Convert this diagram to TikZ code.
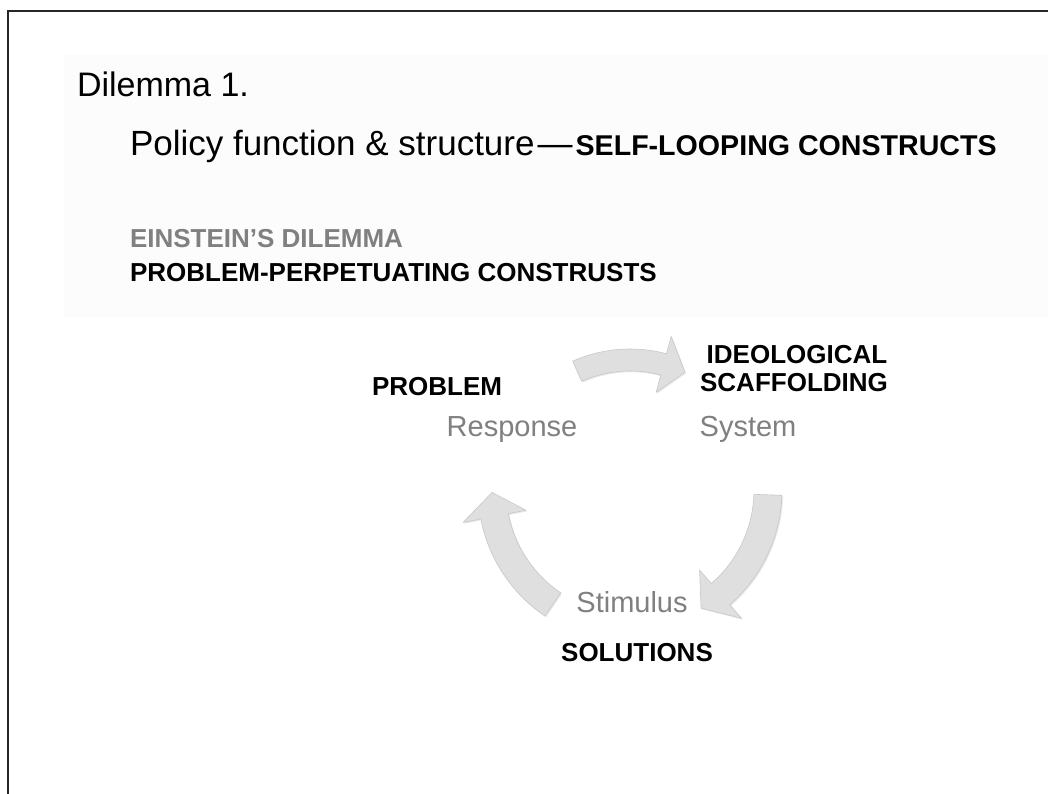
\documentclass[tikz,border=0pt]{standalone}
\usepackage{fontspec}
\setmainfont{Liberation Sans}
\usetikzlibrary{shadows}

\definecolor{panelgrey}{RGB}{252,252,252}
\definecolor{labelgrey}{RGB}{128,128,128}
\definecolor{arrowfill}{RGB}{223,223,223}
\definecolor{arrowedge}{RGB}{200,200,200}

\tikzset{
  frameline/.style={line width=1.6pt, black!85},
  plain/.style={inner sep=0pt, outer sep=0pt, text=black},
  boldlabel/.style={plain, font=\fontsize{26}{28}\selectfont\bfseries},
  greylabel/.style={plain, text=labelgrey, font=\fontsize{29}{31}\selectfont},
  arrowblock/.style={fill=arrowfill, draw=arrowedge, line width=0.6pt, line join=round,
    drop shadow={opacity=0.18, shadow xshift=1.2pt, shadow yshift=-1.2pt}},
}

% curved block arrow around the cycle centre
% #1 tail angle, #2 tip angle, #3 radius, #4 half body width, #5 half head width, #6 head length in degrees
\newcommand\cyclearrow[6]{%
  \pgfmathsetmacro\cyOut{#3+#4}\pgfmathsetmacro\cyIn{#3-#4}%
  \pgfmathsetmacro\cyHo{#3+#5}\pgfmathsetmacro\cyHi{#3-#5}%
  \pgfmathsetmacro\cyHb{#2+#6}%
  \path[arrowblock] (#1:\cyOut pt) arc[start angle=#1, end angle=\cyHb, radius=\cyOut pt]
    -- (\cyHb:\cyHo pt) -- (#2:#3 pt) -- (\cyHb:\cyHi pt) -- (\cyHb:\cyIn pt)
    arc[start angle=\cyHb, end angle=#1, radius=\cyIn pt] -- cycle;}

\begin{document}
\begin{tikzpicture}[x=1pt, y=1pt]
\useasboundingbox (0,0) rectangle (1048,794);
\fill[white] (0,0) rectangle (1048,794);

% slide frame and title panel
\draw[frameline] (8,0) -- (8,783) -- (1048,783);
\fill[panelgrey] (64,477) rectangle (1048,739);

% headings
\node[plain, anchor=base west, font=\fontsize{34}{40}\selectfont] (title) at (77,697) {Dilemma 1.};
\node[plain, anchor=base west, font=\fontsize{35}{40}\selectfont] (subtitle) at (130,638)
  {Policy function \& structure\hspace{3pt}---\hspace{3pt}{\fontsize{28.6}{32}\selectfont\bfseries SELF-LOOPING CONSTRUCTS}};
\node[boldlabel, anchor=base west, text=labelgrey] (einstein) at (130,546) {EINSTEIN’S DILEMMA};
\node[boldlabel, anchor=base west] (perpetuating) at (130,512) {PROBLEM-PERPETUATING CONSTRUSTS};

% cycle arrows
\begin{scope}[shift={(630,304)}]
  \cyclearrow{114}{65}{130}{11}{29}{10}
  \cyclearrow{-2}{-59}{138}{14}{32}{10}
  \cyclearrow{236}{181}{138}{14}{32}{10}
\end{scope}

% cycle labels
\node[boldlabel, anchor=base] (problem) at (437,398) {PROBLEM};
\node[greylabel, anchor=base] (response) at (512,357) {Response};
\node[boldlabel, anchor=base] (ideo) at (797,430) {IDEOLOGICAL};
\node[boldlabel, anchor=base] (scaff) at (794,402) {SCAFFOLDING};
\node[greylabel, anchor=base] (system) at (748,357) {System};
\node[greylabel, anchor=base] (stimulus) at (632,181) {Stimulus};
\node[boldlabel, anchor=base] (solutions) at (637,132) {SOLUTIONS};
\end{tikzpicture}
\end{document}
